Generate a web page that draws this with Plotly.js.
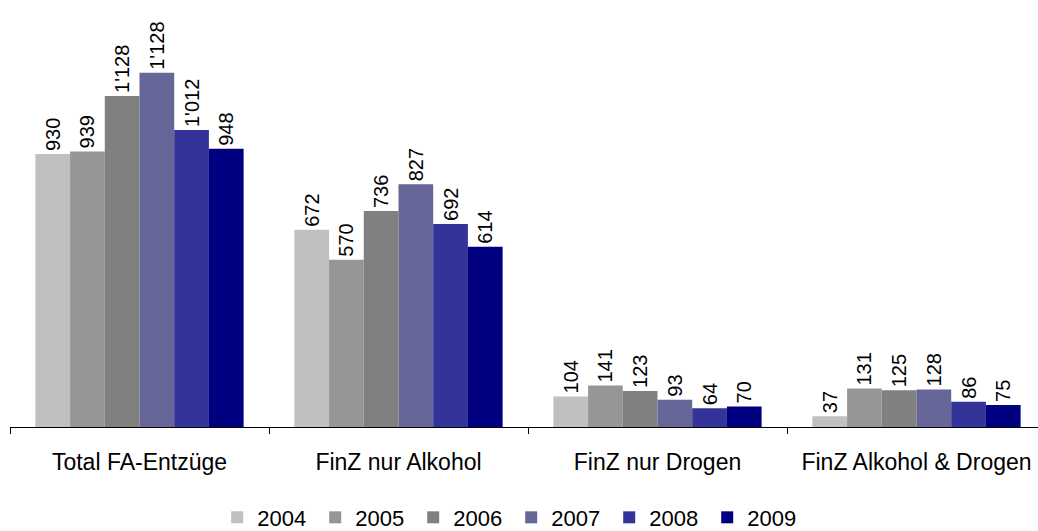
<!DOCTYPE html>
<html>
<head>
<meta charset="utf-8">
<script src="https://cdn.plot.ly/plotly-3.0.1.min.js"></script>
<style>html,body{margin:0;padding:0;background:#fff;overflow:hidden;}</style>
</head>
<body>
<div id="chart" style="width:1046px;height:531px;"></div>
<script>
var categories = ["Total FA-Entzüge", "FinZ nur Alkohol", "FinZ nur Drogen", "FinZ Alkohol & Drogen"];
var years = ["2004", "2005", "2006", "2007", "2008", "2009"];
var v2004 = [930, 672, 104, 37];
var v2005 = [939, 570, 141, 131];
var v2006 = [1128, 736, 123, 125];
var v2007 = [1207, 827, 93, 128];
var v2008 = [1012, 692, 64, 86];
var v2009 = [948, 614, 70, 75];
// labels as printed in the source (2007 total is labelled 1'128)
var label2007 = ["1'128", "827", "93", "128"];
var colors = ["#C0C0C0", "#969696", "#808080", "#666699", "#333399", "#000080"];

function fmt(v) {
  var s = String(v);
  return s.length > 3 ? s.slice(0, s.length - 3) + "'" + s.slice(-3) : s;
}
var series = [v2004, v2005, v2006, v2007, v2008, v2009];
var traces = series.map(function (vals, i) {
  var txt = (years[i] === "2007") ? label2007 : vals.map(fmt);
  return {
    type: "bar",
    name: years[i],
    x: categories,
    y: vals,
    text: txt,
    textposition: "outside",
    textangle: -90,
    constraintext: "none",
    cliponaxis: false,
    hoverinfo: "none",
    textfont: {family: "Liberation Sans, Arial, sans-serif", size: 20, color: "#000"},
    marker: {color: colors[i], line: {width: 0}}
  };
});

var layout = {
  width: 1046,
  height: 531,
  margin: {l: 10, r: 0, t: 0, b: 104, autoexpand: false},
  paper_bgcolor: "#fff",
  plot_bgcolor: "#fff",
  barmode: "group",
  bargap: 0.196,
  bargroupgap: 0,
  showlegend: true,
  font: {family: "Liberation Sans, Arial, sans-serif", color: "#000"},
  xaxis: {
    showline: true,
    linecolor: "#000",
    linewidth: 1,
    ticks: "outside",
    tickson: "boundaries",
    ticklen: 6,
    tickcolor: "#000",
    tickfont: {size: 23, color: "#000"},
    ticklabelstandoff: 14,
    showgrid: false,
    zeroline: false,
    automargin: false,
    fixedrange: true
  },
  yaxis: {
    range: [0, 1455],
    visible: false,
    showgrid: false,
    zeroline: false,
    fixedrange: true
  },
  legend: {
    orientation: "h",
    x: 0.2,
    xanchor: "left",
    xref: "paper",
    y: -0.212,
    yanchor: "middle",
    font: {size: 22, color: "#000"},
    entrywidth: 53,
    entrywidthmode: "pixels",
    itemwidth: 30
  }
};

Plotly.newPlot("chart", traces, layout, {staticPlot: true, displayModeBar: false});
</script>
</body>
</html>
